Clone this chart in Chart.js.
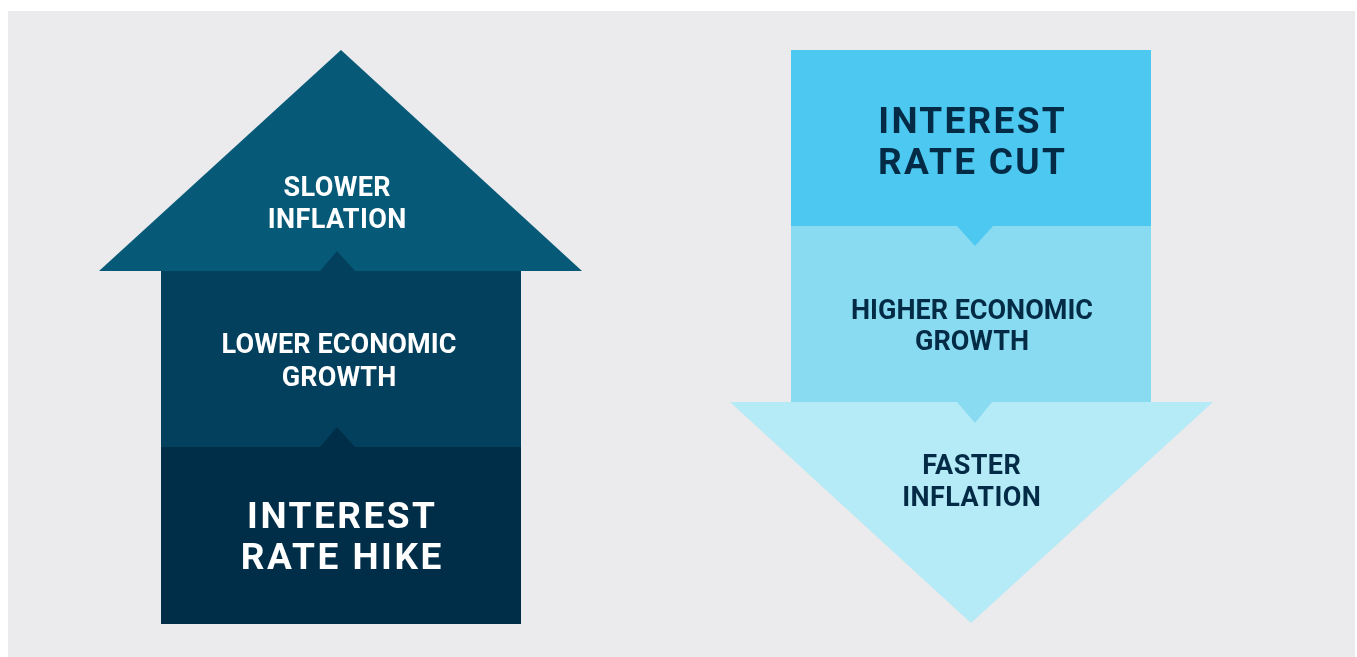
<!DOCTYPE html>
<html>
<head>
<meta charset="utf-8">
<script src="https://cdn.jsdelivr.net/npm/chart.js@4.4.1/dist/chart.umd.min.js"></script>
<style>
  html, body { margin: 0; padding: 0; background: #ffffff; }
  canvas { display: block; }
</style>
</head>
<body>
<canvas id="c" width="1357" height="657"></canvas>
<script>
// ---- Diagram content (text) ----
const hikeLabels = [['SLOWER', 'INFLATION'], ['LOWER ECONOMIC', 'GROWTH'], ['INTEREST', 'RATE HIKE']];
const cutLabels  = [['INTEREST', 'RATE CUT'], ['HIGHER ECONOMIC', 'GROWTH'], ['FASTER', 'INFLATION']];

// ---- Shape outlines (x, y in diagram units), each filled down/up to a base value ----
const hikeHead   = [[99, 271], [341, 50], [582, 271]];
const hikeMid    = [[161, 271], [521, 271]];
const hikeBase   = [[161, 447], [521, 447]];
const hikeNotchA = [[320, 271], [337, 251], [355, 271]];
const hikeNotchB = [[320, 447], [337, 427], [355, 447]];

const cutTop     = [[791, 50], [1151, 50]];
const cutMid     = [[791, 226], [1151, 226]];
const cutHead    = [[730, 402], [971, 623], [1213, 402]];
const cutNotchA  = [[957, 226], [975, 246], [993, 226]];
const cutNotchB  = [[957, 402], [975, 423], [992, 402]];

// ---- Styling / layout ----
const COL = {
  bg: '#ebebed',
  hike: ['#065a78', '#03405e', '#002e48'],
  cut: ['#4dc8f0', '#88dbf0', '#b5eaf7'],
  darkText: '#032b46'
};

const toPts = arr => arr.map(p => ({ x: p[0], y: p[1] }));
function shape(points, base, color, order) {
  return {
    data: toPts(points),
    showLine: true,
    fill: { value: base },
    backgroundColor: color,
    borderColor: 'rgba(0,0,0,0)',
    borderWidth: 0,
    pointRadius: 0,
    pointHoverRadius: 0,
    tension: 0,
    order: order
  };
}

const datasets = [
  shape(hikeNotchA, 271, COL.hike[1], 0),
  shape(hikeNotchB, 447, COL.hike[2], 0),
  shape(cutNotchA, 226, COL.cut[0], 0),
  shape(cutNotchB, 402, COL.cut[1], 0),
  shape(hikeHead, 271, COL.hike[0], 1),
  shape(hikeMid, 447, COL.hike[1], 1),
  shape(hikeBase, 624, COL.hike[2], 1),
  shape(cutTop, 226, COL.cut[0], 1),
  shape(cutMid, 402, COL.cut[1], 1),
  shape(cutHead, 402, COL.cut[2], 1)
];

// text blocks: lines, centre x, centre y of each line, font size, letter spacing, colour
const textBlocks = [
  { lines: hikeLabels[0], x: 337, ys: [186, 218], size: 27, ls: 0.4, color: '#ffffff' },
  { lines: hikeLabels[1], x: 339, ys: [343, 376], size: 27, ls: 0.1, color: '#ffffff' },
  { lines: hikeLabels[2], x: 341, ys: [515, 556], size: 37, ls: 2.5, color: '#ffffff' },
  { lines: cutLabels[0], x: 971.5, ys: [120, 161], size: 37, ls: 2.3, color: COL.darkText },
  { lines: cutLabels[1], x: 972, ys: [309, 340], size: 27, ls: 0, color: COL.darkText },
  { lines: cutLabels[2], x: 971.5, ys: [464, 496], size: 27, ls: 0.4, color: COL.darkText }
];

const backgroundPlugin = {
  id: 'panelBg',
  beforeDraw(chart) {
    const { ctx, scales: { x, y } } = chart;
    ctx.save();
    ctx.fillStyle = '#ffffff';
    ctx.fillRect(0, 0, chart.width, chart.height);
    const x0 = x.getPixelForValue(8), x1 = x.getPixelForValue(1355);
    const y0 = y.getPixelForValue(11), y1 = y.getPixelForValue(657);
    ctx.fillStyle = COL.bg;
    ctx.fillRect(x0, y0, x1 - x0, y1 - y0);
    ctx.restore();
  }
};

const textPlugin = {
  id: 'stepText',
  afterDatasetsDraw(chart) {
    const { ctx, scales: { x, y } } = chart;
    ctx.save();
    ctx.textAlign = 'center';
    ctx.textBaseline = 'alphabetic';
    textBlocks.forEach(b => {
      ctx.font = 'bold ' + b.size + 'px Roboto, "DejaVu Sans", sans-serif';
      ctx.fillStyle = b.color;
      ctx.letterSpacing = b.ls + 'px';
      const cap = b.size * 0.711;
      b.lines.forEach((t, i) => {
        const px = x.getPixelForValue(b.x) + b.ls / 2;
        const py = y.getPixelForValue(b.ys[i]) + cap / 2;
        ctx.fillText(t, px, py);
      });
    });
    ctx.restore();
  }
};

new Chart(document.getElementById('c'), {
  type: 'scatter',
  data: { datasets },
  options: {
    responsive: false,
    devicePixelRatio: 1,
    animation: false,
    events: [],
    layout: { padding: 0 },
    plugins: { legend: { display: false }, tooltip: { enabled: false }, title: { display: false } },
    scales: {
      x: { type: 'linear', min: 0, max: 1357, display: false },
      y: { type: 'linear', min: 0, max: 657, reverse: true, display: false }
    }
  },
  plugins: [backgroundPlugin, textPlugin]
});
</script>
</body>
</html>
